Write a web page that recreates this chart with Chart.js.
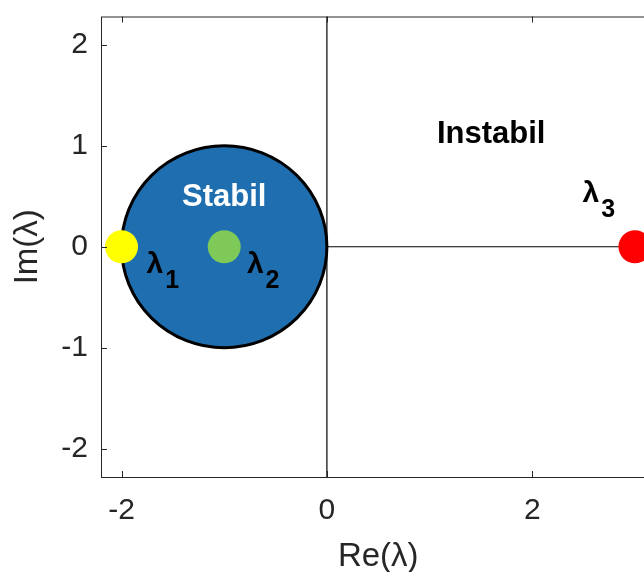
<!DOCTYPE html>
<html>
<head>
<meta charset="utf-8">
<script src="https://cdn.jsdelivr.net/npm/chart.js@4.4.1/dist/chart.umd.min.js"></script>
<style>
html,body{margin:0;padding:0;background:#fff;overflow:hidden;}
#wrap{width:644px;height:572px;overflow:hidden;}
canvas{display:block;}
</style>
</head>
<body>
<div id="wrap"><canvas id="c" width="672" height="572"></canvas></div>
<script>
// axis ranges + ticks
const xLim = [-2.2, 3.2];
const yLim = [-2.28, 2.28];
const xTicks = [-2, 0, 2];
const yTicks = [-2, -1, 0, 1, 2];

// eigenvalues
const eigRe = [-2, -1, 3];
const eigIm = [0, 0, 0];
const eigNames = ["1", "2", "3"];

// stability region: circle around -1
const circCenter = [-1, 0];
const circRadius = 1;

// labels
const regionText = ["Stabil", "Instabil"];
const regionX = [-1.0, 1.6];
const regionY = [0.40, 1.03];
const lamX = [-1.757, -0.779, 2.49];
const lamY = [-0.26, -0.26, 0.44];

const eigColors = ["#ffff00", "#7ec958", "#ff0000"];
const FONT = "'Liberation Sans', Arial, Helvetica, sans-serif";
const AX = "#262626";

Chart.defaults.font.family = FONT;
Chart.defaults.color = AX;

const overlay = {
  id: "overlay",
  beforeDatasetsDraw(chart) {
    const {ctx, scales: {x, y}} = chart;
    const cx = x.getPixelForValue(circCenter[0]);
    const cy = y.getPixelForValue(circCenter[1]);
    const rx = x.getPixelForValue(circCenter[0] + circRadius) - cx;
    const ry = cy - y.getPixelForValue(circCenter[1] + circRadius);
    ctx.save();
    ctx.beginPath();
    ctx.ellipse(cx, cy, rx, ry, 0, 0, 2 * Math.PI);
    ctx.fillStyle = "#1f6fb0";
    ctx.fill();
    ctx.lineWidth = 3;
    ctx.strokeStyle = "#000";
    ctx.stroke();
    ctx.restore();
  },
  afterDatasetsDraw(chart) {
    const {ctx, scales: {x, y}} = chart;
    ctx.save();
    ctx.textAlign = "center";
    ctx.textBaseline = "alphabetic";
    ctx.font = "bold 31px " + FONT;
    regionText.forEach((t, i) => {
      ctx.fillStyle = i === 0 ? "#fff" : "#000";
      ctx.fillText(t, x.getPixelForValue(regionX[i]), y.getPixelForValue(regionY[i]));
    });
    ctx.textAlign = "left";
    ctx.fillStyle = "#000";
    eigNames.forEach((n, i) => {
      const px = x.getPixelForValue(lamX[i]);
      const py = y.getPixelForValue(lamY[i]);
      ctx.font = "bold 30px " + FONT;
      ctx.fillText("λ", px, py);
      const w = ctx.measureText("λ").width;
      ctx.font = "bold 25px " + FONT;
      ctx.fillText(n, px + w + 2, py + 15);
    });
    ctx.restore();
  },
  afterDraw(chart) {
    const {ctx, chartArea: a, scales: {x, y}} = chart;
    ctx.save();
    ctx.strokeStyle = AX;
    ctx.lineWidth = 1;
    ctx.strokeRect(a.left + 0.5, a.top + 0.5, a.right - a.left, a.bottom - a.top);
    ctx.beginPath();
    x.ticks.forEach(t => {
      const p = Math.round(x.getPixelForValue(t.value)) + 0.5;
      ctx.moveTo(p, a.bottom); ctx.lineTo(p, a.bottom - 6);
      ctx.moveTo(p, a.top); ctx.lineTo(p, a.top + 6);
    });
    y.ticks.forEach(t => {
      const p = Math.round(y.getPixelForValue(t.value)) + 0.5;
      ctx.moveTo(a.left, p); ctx.lineTo(a.left + 6, p);
      ctx.moveTo(a.right, p); ctx.lineTo(a.right - 6, p);
    });
    ctx.stroke();
    ctx.restore();
  }
};

new Chart(document.getElementById("c"), {
  type: "scatter",
  data: {
    datasets: [
      {
        label: "eig",
        data: eigRe.map((v, i) => ({x: v, y: eigIm[i]})),
        pointRadius: 16.5,
        pointBorderWidth: 0,
        pointBackgroundColor: eigColors,
        showLine: false
      },
      {
        label: "re-axis",
        data: [{x: 0, y: 0}, {x: xLim[1], y: 0}],
        showLine: true,
        borderColor: "#000",
        borderWidth: 1.2,
        pointRadius: 0
      },
      {
        label: "im-axis",
        data: [{x: 0, y: yLim[0]}, {x: 0, y: yLim[1]}],
        showLine: true,
        borderColor: "#000",
        borderWidth: 1.2,
        pointRadius: 0
      }
    ]
  },
  options: {
    responsive: false,
    animation: false,
    layout: {padding: {top: 13, right: 6, left: 0, bottom: 0}},
    plugins: {legend: {display: false}, tooltip: {enabled: false}},
    scales: {
      x: {
        type: "linear",
        min: xLim[0], max: xLim[1],
        afterBuildTicks: s => { s.ticks = xTicks.map(v => ({value: v})); },
        afterFit: s => { s.height = 95; s.paddingLeft = 0; s.paddingRight = 0; },
        grid: {display: false, drawTicks: false},
        border: {display: false},
        ticks: {font: {size: 30}, color: AX, padding: 16, maxRotation: 0},
        title: {display: true, text: "Re(λ)", font: {size: 33}, color: AX, padding: {top: 0, bottom: -5}}
      },
      y: {
        type: "linear",
        min: yLim[0], max: yLim[1],
        afterBuildTicks: s => { s.ticks = yTicks.map(v => ({value: v})); },
        afterFit: s => { s.width = 101; s.paddingTop = 0; s.paddingBottom = 0; },
        grid: {display: false, drawTicks: false},
        border: {display: false},
        ticks: {font: {size: 30}, color: AX, padding: 13},
        title: {display: true, text: "Im(λ)", font: {size: 33}, color: AX, padding: {top: 8, bottom: 0}}
      }
    }
  },
  plugins: [overlay]
});
</script>
</body>
</html>
